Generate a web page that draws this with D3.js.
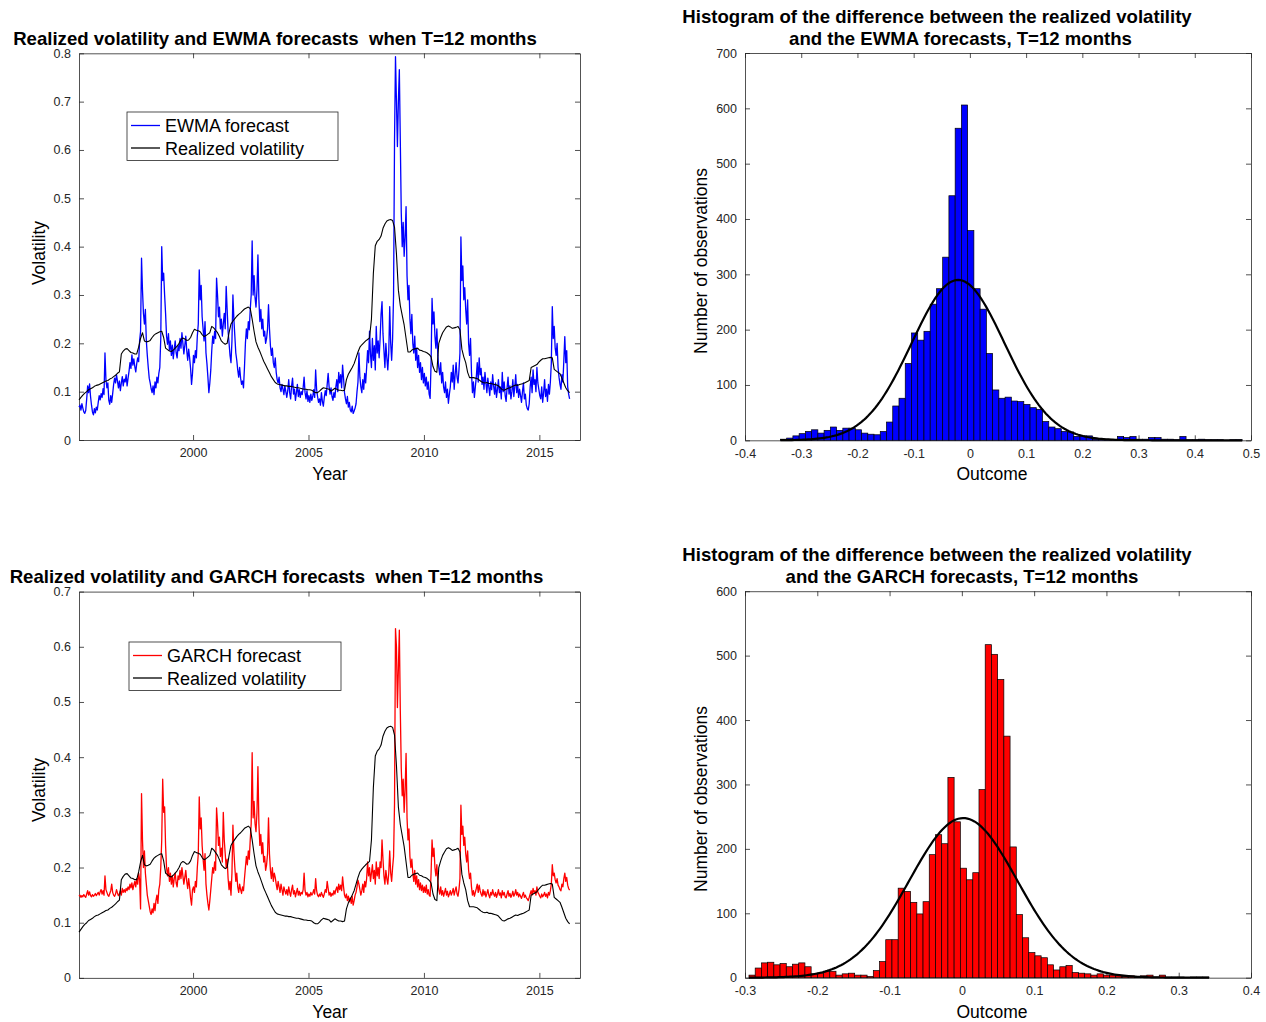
<!DOCTYPE html>
<html>
<head>
<meta charset="utf-8">
<script src="https://cdn.jsdelivr.net/npm/d3@7"></script>
<style>
  body { margin: 0; background: #fff; }
  text { font-family: "Liberation Sans", Arial, Helvetica, sans-serif; white-space: pre; }
</style>
</head>
<body>
<svg id="fig" width="1266" height="1022"></svg>
<script>
// ---- time series (realized monthly, forecasts twice a month) ----
const seriesStart = 1995.06;
const realizedPerYear = 12;
const forecastPerYear = 24;
const yearTicks = [2000, 2005, 2010, 2015];

const realized = [
  0.083, 0.088, 0.093, 0.097, 0.100, 0.104, 0.106, 0.108, 0.111, 0.113, 0.114, 0.116,
  0.118, 0.120, 0.122, 0.123, 0.126, 0.128, 0.131, 0.134, 0.138, 0.141, 0.178, 0.184,
  0.188, 0.189, 0.185, 0.181, 0.180, 0.178, 0.178, 0.192, 0.210, 0.222, 0.205, 0.203,
  0.204, 0.206, 0.212, 0.217, 0.220, 0.222, 0.224, 0.225, 0.212, 0.190, 0.187, 0.184,
  0.183, 0.186, 0.190, 0.194, 0.200, 0.208, 0.211, 0.209, 0.206, 0.207, 0.212, 0.222,
  0.229, 0.227, 0.226, 0.224, 0.218, 0.214, 0.216, 0.219, 0.222, 0.235, 0.232, 0.227,
  0.222, 0.214, 0.205, 0.201, 0.198, 0.200, 0.222, 0.240, 0.246, 0.251, 0.256, 0.260,
  0.263, 0.267, 0.271, 0.273, 0.275, 0.272, 0.250, 0.225, 0.203, 0.192, 0.183, 0.173,
  0.163, 0.155, 0.147, 0.139, 0.131, 0.125, 0.119, 0.116, 0.115, 0.114, 0.113, 0.112,
  0.112, 0.111, 0.111, 0.110, 0.109, 0.108, 0.108, 0.107, 0.106, 0.105, 0.105, 0.104,
  0.104, 0.103, 0.100, 0.098, 0.098, 0.101, 0.105, 0.108, 0.107, 0.106, 0.105, 0.101,
  0.104, 0.107, 0.105, 0.103, 0.103, 0.102, 0.103, 0.125, 0.136, 0.143, 0.150, 0.158,
  0.170, 0.182, 0.192, 0.197, 0.201, 0.205, 0.208, 0.211, 0.250, 0.345, 0.402, 0.411,
  0.415, 0.422, 0.438, 0.447, 0.453, 0.455, 0.456, 0.454, 0.440, 0.385, 0.310, 0.278,
  0.258, 0.238, 0.210, 0.182, 0.182, 0.186, 0.188, 0.189, 0.190, 0.186, 0.185, 0.183,
  0.182, 0.180, 0.177, 0.172, 0.152, 0.142, 0.140, 0.200, 0.212, 0.222, 0.228, 0.234,
  0.236, 0.234, 0.231, 0.232, 0.233, 0.235, 0.228, 0.188, 0.172, 0.160, 0.140, 0.129,
  0.129, 0.129, 0.128, 0.127, 0.124, 0.121, 0.119, 0.118, 0.119, 0.117, 0.117, 0.116,
  0.115, 0.114, 0.112, 0.108, 0.104, 0.103, 0.105, 0.107, 0.108, 0.110, 0.112, 0.114,
  0.113, 0.115, 0.116, 0.117, 0.119, 0.121, 0.123, 0.150, 0.152, 0.154, 0.156, 0.161,
  0.165, 0.168, 0.168, 0.169, 0.170, 0.171, 0.170, 0.146, 0.143, 0.140, 0.137, 0.128,
  0.118, 0.108, 0.102, 0.098
];

const ewma = [
  0.068, 0.072, 0.062, 0.075, 0.066, 0.058, 0.055, 0.061, 0.085, 0.112, 0.098, 0.116, 0.090, 0.072, 0.058, 0.052, 0.065, 0.056, 0.068, 0.062, 0.078, 0.092, 0.083, 0.096,
  0.088, 0.106, 0.094, 0.180, 0.125, 0.108, 0.118, 0.082, 0.074, 0.092, 0.078, 0.096, 0.115, 0.128, 0.118, 0.135, 0.122, 0.108, 0.122, 0.102, 0.118, 0.131, 0.112, 0.126,
  0.120, 0.135, 0.112, 0.128, 0.142, 0.160, 0.148, 0.176, 0.155, 0.168, 0.152, 0.141, 0.158, 0.170, 0.162, 0.205, 0.225, 0.376, 0.310, 0.262, 0.240, 0.270, 0.205, 0.175,
  0.150, 0.128, 0.118, 0.106, 0.098, 0.112, 0.094, 0.120, 0.108, 0.130, 0.118, 0.138, 0.150, 0.210, 0.400, 0.330, 0.345, 0.300, 0.262, 0.215, 0.198, 0.220, 0.186, 0.205,
  0.175, 0.196, 0.168, 0.188, 0.205, 0.180, 0.170, 0.195, 0.185, 0.210, 0.190, 0.222, 0.200, 0.178, 0.196, 0.215, 0.185, 0.165, 0.188, 0.170, 0.148, 0.115, 0.138, 0.175,
  0.160, 0.185, 0.170, 0.215, 0.240, 0.352, 0.290, 0.320, 0.255, 0.230, 0.205, 0.245, 0.180, 0.158, 0.130, 0.098, 0.118, 0.145, 0.185, 0.215, 0.200, 0.225, 0.210, 0.335,
  0.300, 0.255, 0.275, 0.230, 0.250, 0.215, 0.240, 0.262, 0.230, 0.318, 0.270, 0.225, 0.200, 0.175, 0.160, 0.205, 0.300, 0.250, 0.215, 0.180, 0.165, 0.145, 0.130, 0.150,
  0.128, 0.115, 0.122, 0.108, 0.150, 0.200, 0.230, 0.210, 0.245, 0.228, 0.270, 0.300, 0.412, 0.300, 0.340, 0.295, 0.275, 0.310, 0.383, 0.290, 0.245, 0.270, 0.230, 0.250,
  0.215, 0.225, 0.200, 0.210, 0.230, 0.280, 0.230, 0.195, 0.175, 0.190, 0.160, 0.150, 0.170, 0.140, 0.125, 0.118, 0.130, 0.108, 0.100, 0.115, 0.105, 0.094, 0.112, 0.100,
  0.088, 0.102, 0.125, 0.098, 0.085, 0.112, 0.128, 0.095, 0.105, 0.082, 0.098, 0.115, 0.090, 0.104, 0.088, 0.100, 0.094, 0.108, 0.130, 0.098, 0.085, 0.102, 0.080, 0.092,
  0.078, 0.095, 0.082, 0.090, 0.104, 0.088, 0.145, 0.105, 0.090, 0.078, 0.085, 0.072, 0.098, 0.080, 0.070, 0.088, 0.102, 0.092, 0.115, 0.138, 0.110, 0.095, 0.108, 0.090,
  0.082, 0.098, 0.088, 0.110, 0.125, 0.100, 0.140, 0.118, 0.135, 0.108, 0.155, 0.128, 0.098, 0.085, 0.075, 0.090, 0.068, 0.078, 0.062, 0.058, 0.070, 0.055, 0.060, 0.066,
  0.075, 0.100, 0.120, 0.180, 0.130, 0.110, 0.098, 0.125, 0.105, 0.138, 0.118, 0.150, 0.185, 0.160, 0.225, 0.178, 0.150, 0.210, 0.165, 0.195, 0.145, 0.235, 0.180, 0.205,
  0.170, 0.210, 0.260, 0.286, 0.220, 0.185, 0.150, 0.200, 0.170, 0.145, 0.180, 0.276, 0.200, 0.165, 0.210, 0.300, 0.620, 0.793, 0.700, 0.607, 0.700, 0.766, 0.620, 0.470,
  0.400, 0.450, 0.380, 0.420, 0.483, 0.340, 0.290, 0.320, 0.250, 0.220, 0.260, 0.200, 0.180, 0.215, 0.165, 0.190, 0.150, 0.175, 0.140, 0.160, 0.125, 0.150, 0.118, 0.138,
  0.112, 0.130, 0.105, 0.120, 0.095, 0.086, 0.160, 0.293, 0.240, 0.265, 0.215, 0.190, 0.230, 0.175, 0.150, 0.135, 0.160, 0.118, 0.140, 0.110, 0.098, 0.120, 0.088, 0.105,
  0.076, 0.095, 0.110, 0.140, 0.120, 0.155, 0.105, 0.135, 0.160, 0.130, 0.118, 0.145, 0.180, 0.420, 0.330, 0.360, 0.290, 0.315, 0.270, 0.240, 0.290, 0.200, 0.175, 0.210,
  0.140, 0.098, 0.120, 0.088, 0.110, 0.130, 0.160, 0.120, 0.170, 0.135, 0.148, 0.115, 0.130, 0.105, 0.140, 0.118, 0.098, 0.128, 0.110, 0.092, 0.120, 0.104, 0.135, 0.112,
  0.095, 0.118, 0.088, 0.105, 0.125, 0.098, 0.110, 0.085, 0.140, 0.100, 0.120, 0.092, 0.080, 0.108, 0.130, 0.095, 0.112, 0.085, 0.100, 0.125, 0.090, 0.110, 0.135, 0.098,
  0.115, 0.088, 0.105, 0.092, 0.078, 0.100, 0.118, 0.085, 0.095, 0.072, 0.065, 0.062, 0.075, 0.110, 0.130, 0.098, 0.145, 0.115, 0.125, 0.100, 0.150, 0.118, 0.105, 0.092,
  0.085, 0.110, 0.078, 0.098, 0.125, 0.090, 0.105, 0.080, 0.115, 0.095, 0.120, 0.160, 0.276, 0.210, 0.235, 0.190, 0.175, 0.200, 0.150, 0.130, 0.115, 0.105, 0.135, 0.120,
  0.165, 0.214, 0.160, 0.185, 0.110, 0.095, 0.085
];

const garch = [
  0.148, 0.150, 0.146, 0.149, 0.147, 0.151, 0.148, 0.146, 0.152, 0.158, 0.150, 0.156, 0.149, 0.147, 0.151, 0.148, 0.150, 0.153, 0.149, 0.152, 0.155, 0.150, 0.156, 0.160,
  0.152, 0.158, 0.150, 0.185, 0.160, 0.155, 0.150, 0.148, 0.153, 0.158, 0.170, 0.155, 0.150, 0.148, 0.152, 0.160, 0.154, 0.149, 0.152, 0.158, 0.150, 0.162, 0.155, 0.160,
  0.155, 0.162, 0.158, 0.165, 0.160, 0.170, 0.163, 0.172, 0.160, 0.168, 0.175, 0.165, 0.180, 0.170, 0.190, 0.178, 0.125, 0.334, 0.250, 0.200, 0.230, 0.190, 0.170, 0.150,
  0.140, 0.130, 0.120, 0.115, 0.125, 0.118, 0.135, 0.122, 0.140, 0.150, 0.135, 0.160, 0.170, 0.200, 0.250, 0.360, 0.300, 0.310, 0.240, 0.200, 0.185, 0.200, 0.175, 0.190,
  0.170, 0.185, 0.165, 0.180, 0.190, 0.172, 0.165, 0.185, 0.178, 0.195, 0.180, 0.200, 0.185, 0.170, 0.182, 0.195, 0.175, 0.162, 0.180, 0.165, 0.145, 0.132, 0.160, 0.165,
  0.155, 0.175, 0.165, 0.200, 0.225, 0.328, 0.270, 0.290, 0.240, 0.215, 0.195, 0.225, 0.170, 0.150, 0.135, 0.123, 0.140, 0.160, 0.180, 0.200, 0.190, 0.210, 0.195, 0.308,
  0.280, 0.240, 0.255, 0.220, 0.235, 0.210, 0.300, 0.250, 0.225, 0.200, 0.215, 0.180, 0.160, 0.175, 0.150, 0.190, 0.277, 0.230, 0.200, 0.175, 0.190, 0.165, 0.155, 0.170,
  0.160, 0.153, 0.165, 0.158, 0.180, 0.200, 0.220, 0.205, 0.230, 0.215, 0.250, 0.280, 0.408, 0.290, 0.320, 0.280, 0.265, 0.300, 0.383, 0.280, 0.240, 0.260, 0.225, 0.245,
  0.210, 0.220, 0.195, 0.205, 0.225, 0.290, 0.225, 0.195, 0.180, 0.200, 0.175, 0.190, 0.182, 0.170, 0.160, 0.175, 0.165, 0.155, 0.170, 0.160, 0.150, 0.165, 0.158, 0.152,
  0.160, 0.150, 0.165, 0.155, 0.148, 0.160, 0.168, 0.152, 0.158, 0.147, 0.155, 0.162, 0.150, 0.157, 0.149, 0.155, 0.152, 0.160, 0.190, 0.158, 0.150, 0.155, 0.147, 0.152,
  0.148, 0.155, 0.150, 0.153, 0.160, 0.152, 0.180, 0.158, 0.150, 0.147, 0.152, 0.148, 0.155, 0.150, 0.146, 0.152, 0.160, 0.155, 0.175, 0.162, 0.150, 0.155, 0.148, 0.153,
  0.150, 0.158, 0.152, 0.160, 0.165, 0.155, 0.170, 0.160, 0.168, 0.158, 0.183, 0.165, 0.150, 0.145, 0.152, 0.140, 0.148, 0.138, 0.145, 0.135, 0.148, 0.132, 0.140, 0.150,
  0.155, 0.165, 0.177, 0.170, 0.160, 0.150, 0.158, 0.170, 0.155, 0.175, 0.165, 0.180, 0.210, 0.185, 0.200, 0.175, 0.190, 0.205, 0.180, 0.195, 0.170, 0.210, 0.185, 0.200,
  0.180, 0.210, 0.200, 0.250, 0.215, 0.185, 0.170, 0.195, 0.180, 0.170, 0.190, 0.230, 0.190, 0.175, 0.200, 0.220, 0.316, 0.633, 0.600, 0.490, 0.560, 0.630, 0.485, 0.380,
  0.330, 0.360, 0.300, 0.340, 0.407, 0.290, 0.250, 0.270, 0.220, 0.200, 0.215, 0.190, 0.175, 0.195, 0.170, 0.185, 0.165, 0.178, 0.160, 0.172, 0.158, 0.168, 0.155, 0.165,
  0.155, 0.168, 0.152, 0.160, 0.150, 0.148, 0.190, 0.250, 0.220, 0.235, 0.200, 0.185, 0.205, 0.175, 0.160, 0.152, 0.165, 0.150, 0.158, 0.148, 0.155, 0.162, 0.150, 0.157,
  0.147, 0.152, 0.158, 0.150, 0.155, 0.162, 0.150, 0.158, 0.165, 0.152, 0.148, 0.160, 0.180, 0.313, 0.260, 0.275, 0.240, 0.255, 0.225, 0.210, 0.230, 0.195, 0.180, 0.190,
  0.165, 0.150, 0.158, 0.148, 0.155, 0.162, 0.170, 0.155, 0.168, 0.158, 0.152, 0.148, 0.160, 0.150, 0.157, 0.147, 0.153, 0.160, 0.150, 0.145, 0.155, 0.150, 0.160, 0.152,
  0.148, 0.155, 0.146, 0.152, 0.160, 0.150, 0.154, 0.145, 0.158, 0.150, 0.155, 0.147, 0.145, 0.152, 0.158, 0.148, 0.153, 0.146, 0.150, 0.157, 0.148, 0.152, 0.160, 0.150,
  0.155, 0.147, 0.152, 0.148, 0.144, 0.150, 0.155, 0.146, 0.150, 0.145, 0.143, 0.140, 0.146, 0.152, 0.158, 0.150, 0.162, 0.155, 0.158, 0.150, 0.165, 0.155, 0.152, 0.148,
  0.145, 0.152, 0.147, 0.150, 0.155, 0.148, 0.152, 0.145, 0.155, 0.150, 0.158, 0.170, 0.205, 0.185, 0.190, 0.178, 0.172, 0.180, 0.168, 0.165, 0.160, 0.158, 0.170, 0.165,
  0.180, 0.190, 0.175, 0.182, 0.168, 0.162, 0.159
];

// ---- histograms of forecast errors ----
const ewmaBinStart = -0.337, ewmaBinWidth = 0.0111;
const ewmaCounts = [
  2, 4, 8, 12, 16, 19, 13, 18, 24, 18, 22, 22, 19, 13, 11, 10, 16, 33, 62, 76,
  139, 194, 181, 197, 246, 274, 331, 442, 564, 606, 379, 274, 237, 157, 91,
  76, 78, 71, 70, 65, 59, 56, 34, 24, 21, 16, 15, 7, 8, 8, 2, 2, 2, 1, 7,
  5, 7, 2, 2, 5, 5, 2, 2, 1, 7, 1, 1, 2, 1, 1, 1, 0, 1, 1
];
const ewmaFit = { mu: -0.021, sigma: 0.0825 };

const garchBinStart = -0.2945, garchBinWidth = 0.0086;
const garchCounts = [
  4, 15, 23, 24, 20, 22, 17, 21, 23, 17, 6, 7, 10, 10, 4, 6, 7, 4, 4, 2,
  11, 25, 59, 59, 139, 134, 117, 99, 118, 191, 222, 208, 311, 242, 170, 152, 163, 292, 517, 502,
  463, 375, 203, 98, 62, 39, 34, 31, 20, 12, 17, 19, 8, 7, 6, 4, 6, 4, 4, 3,
  2, 3, 1, 3, 4, 1, 4, 1, 1, 1, 0, 1, 1, 1
];
const garchFit = { mu: 0.002, sigma: 0.075 };

const ewmaXTicks = [-0.4, -0.3, -0.2, -0.1, 0, 0.1, 0.2, 0.3, 0.4, 0.5];
const garchXTicks = [-0.3, -0.2, -0.1, 0, 0.1, 0.2, 0.3, 0.4];

// ---------------------------------------------------------------
const svg = d3.select("#fig");
const axisColor = "#262626";
const decFmt = d => d === 0 ? "0" : d.toFixed(1);

function frame(x, y, xTicks, yTicks, xFmt, yFmt) {
  const [x0, x1] = x.range(), [yb, yt] = y.range();
  const g = svg.append("g");
  g.append("g").attr("transform", `translate(0,${yb})`)
    .call(d3.axisBottom(x).tickValues(xTicks).tickSizeInner(-5).tickSizeOuter(0).tickPadding(8.5).tickFormat(xFmt));
  g.append("g").attr("transform", `translate(0,${yt})`)
    .call(d3.axisTop(x).tickValues(xTicks).tickSizeInner(-5).tickSizeOuter(0).tickFormat(""));
  g.append("g").attr("transform", `translate(${x0},0)`)
    .call(d3.axisLeft(y).tickValues(yTicks).tickSizeInner(-5).tickSizeOuter(0).tickPadding(8).tickFormat(yFmt));
  g.append("g").attr("transform", `translate(${x1},0)`)
    .call(d3.axisRight(y).tickValues(yTicks).tickSizeInner(-5).tickSizeOuter(0).tickFormat(""));
  g.selectAll("path.domain").attr("stroke", axisColor).attr("stroke-width", 0.8);
  g.selectAll(".tick line").attr("stroke", axisColor).attr("stroke-width", 0.8);
  g.selectAll(".tick text").attr("fill", axisColor).style("font-size", "12.5px")
    .style("font-family", '"Liberation Sans", Arial, sans-serif');
}

function label(txt, x, y, opts = {}) {
  const t = svg.append("text")
    .attr("x", x).attr("y", y)
    .attr("text-anchor", "middle")
    .attr("fill", opts.color || "#000")
    .style("font-size", (opts.size || 17.5) + "px")
    .style("font-weight", opts.bold ? "bold" : "normal")
    .text(txt);
  if (opts.rotate) t.attr("transform", `rotate(-90,${x},${y})`);
  return t;
}

function linePanel(top, bottom, yMax, forecast, fColor, legendName, legendBox) {
  const x = d3.scaleLinear().domain([1995.06, 2016.76]).range([79, 580]);
  const y = d3.scaleLinear().domain([0, yMax]).range([bottom, top]);
  frame(x, y, yearTicks, d3.range(0, yMax + 0.001, 0.1).map(v => +v.toFixed(1)), d3.format("d"), decFmt);

  const line = d3.line().x(d => x(d.t)).y(d => y(d.v));
  const fData = forecast.map((v, i) => ({ t: seriesStart + i / forecastPerYear, v }));
  const rData = realized.map((v, i) => ({ t: seriesStart + i / realizedPerYear, v }));
  svg.append("path").datum(fData).attr("d", line)
    .attr("fill", "none").attr("stroke", fColor).attr("stroke-width", 1.3).attr("stroke-linejoin", "round");
  svg.append("path").datum(rData).attr("d", line)
    .attr("fill", "none").attr("stroke", "#000").attr("stroke-width", 1.1).attr("stroke-linejoin", "round");

  // legend
  const [lx, ly, lw, lh] = legendBox;
  const lg = svg.append("g");
  lg.append("rect").attr("x", lx).attr("y", ly).attr("width", lw).attr("height", lh)
    .attr("fill", "#fff").attr("stroke", axisColor).attr("stroke-width", 0.8);
  [[legendName, fColor], ["Realized volatility", "#000"]].forEach(([name, c], k) => {
    const yy = ly + 13.5 + k * 22.5;
    lg.append("line").attr("x1", lx + 4).attr("x2", lx + 33).attr("y1", yy).attr("y2", yy)
      .attr("stroke", c).attr("stroke-width", 1.3);
    lg.append("text").attr("x", lx + 38).attr("y", yy + 6.5)
      .style("font-size", "18px").attr("fill", "#000").text(name);
  });
}

function histPanel(top, bottom, xDom, xTicks, yMax, counts, binStart, binWidth, fit, fill) {
  const x = d3.scaleLinear().domain(xDom).range([745, 1251]);
  const y = d3.scaleLinear().domain([0, yMax]).range([bottom, top]);
  frame(x, y, xTicks, d3.range(0, yMax + 1, 100), decFmt, d3.format("d"));

  svg.append("g").selectAll("rect").data(counts).join("rect")
    .attr("x", (c, i) => x(binStart + i * binWidth))
    .attr("width", x(binWidth) - x(0))
    .attr("y", c => y(c))
    .attr("height", c => y(0) - y(c))
    .attr("fill", fill).attr("stroke", "#000").attr("stroke-width", 0.7);

  // fitted normal density scaled to the histogram (histfit style)
  const n = d3.sum(counts);
  const lo = binStart, hi = binStart + counts.length * binWidth;
  const pts = d3.range(0, 201).map(k => {
    const v = lo + (hi - lo) * k / 200;
    const z = (v - fit.mu) / fit.sigma;
    return [v, n * binWidth * Math.exp(-0.5 * z * z) / (fit.sigma * Math.sqrt(2 * Math.PI))];
  });
  svg.append("path").datum(pts)
    .attr("d", d3.line().x(d => x(d[0])).y(d => y(d[1])))
    .attr("fill", "none").attr("stroke", "#000").attr("stroke-width", 2.2);
}

// ---- top left ----
linePanel(53.3, 440, 0.8, ewma, "#0000ff", "EWMA forecast", [127, 112, 211, 48.5]);
label("Realized volatility and EWMA forecasts  when T=12 months", 275, 45, { bold: true, size: 18.6 });
label("Year", 330, 480);
label("Volatility", 45, 253, { rotate: true });

// ---- bottom left ----
linePanel(591.6, 977.9, 0.7, garch, "#ff0000", "GARCH forecast", [129, 642, 212, 48.5]);
label("Realized volatility and GARCH forecasts  when T=12 months", 276.5, 583, { bold: true, size: 18.6 });
label("Year", 330, 1018);
label("Volatility", 45, 790, { rotate: true });

// ---- top right ----
histPanel(53, 440.3, [-0.4, 0.5], ewmaXTicks, 700, ewmaCounts, ewmaBinStart, ewmaBinWidth, ewmaFit, "#0000ff");
label("Histogram of the difference between the realized volatility", 937, 23, { bold: true, size: 18.6 });
label("and the EWMA forecasts, T=12 months", 960.5, 45, { bold: true, size: 18.6 });
label("Outcome", 992, 480);
label("Number of observations", 707, 261, { rotate: true });

// ---- bottom right ----
histPanel(591.2, 977.7, [-0.3, 0.4], garchXTicks, 600, garchCounts, garchBinStart, garchBinWidth, garchFit, "#ff0000");
label("Histogram of the difference between the realized volatility", 937, 561, { bold: true, size: 18.6 });
label("and the GARCH forecasts, T=12 months", 962, 583, { bold: true, size: 18.6 });
label("Outcome", 992, 1018);
label("Number of observations", 707, 799, { rotate: true });
</script>
</body>
</html>
